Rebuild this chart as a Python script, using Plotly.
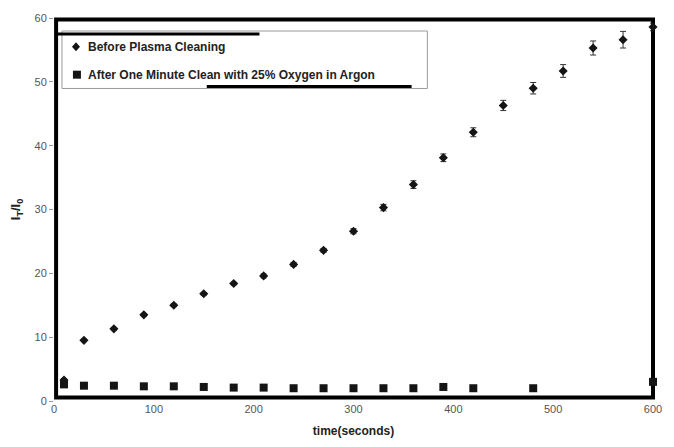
import plotly.graph_objects as go

# Transmitted intensity ratio I_T/I_0 versus exposure time
time_before = [10, 30, 60, 90, 120, 150, 180, 210, 240, 270, 300, 330, 360, 390,
               420, 450, 480, 510, 540, 570, 600]
ratio_before = [3.3, 9.5, 11.3, 13.5, 15.0, 16.8, 18.4, 19.6, 21.4, 23.6, 26.6, 30.3,
                33.9, 38.1, 42.1, 46.3, 49.0, 51.7, 55.3, 56.6, 58.6]
err_before = [0.2, 0.2, 0.2, 0.2, 0.2, 0.2, 0.2, 0.3, 0.3, 0.3, 0.4, 0.5, 0.6, 0.6,
              0.7, 0.8, 0.9, 1.0, 1.1, 1.3, 0.6]

time_after = [10, 30, 60, 90, 120, 150, 180, 210, 240, 270, 300, 330, 360, 390, 420,
              480, 600]
ratio_after = [2.6, 2.4, 2.4, 2.3, 2.3, 2.2, 2.1, 2.1, 2.0, 2.0, 2.0, 2.0, 2.0, 2.2,
               2.0, 2.0, 3.0]

x_ticks = [0, 100, 200, 300, 400, 500, 600]
y_ticks = [0, 10, 20, 30, 40, 50, 60]

label_before = "Before Plasma Cleaning"
label_after = "After One Minute Clean with 25% Oxygen in Argon"

fig = go.Figure()

fig.add_trace(go.Scatter(
    x=time_after, y=ratio_after, mode="markers", name=label_after,
    marker=dict(symbol="square", size=8, color="#151515"),
    showlegend=False, cliponaxis=False,
))
fig.add_trace(go.Scatter(
    x=time_before, y=ratio_before, mode="markers", name=label_before,
    marker=dict(symbol="diamond", size=7, color="#151515"),
    error_y=dict(type="data", array=err_before, visible=True,
                 color="#333333", thickness=1, width=3),
    showlegend=False, cliponaxis=False,
))

tick_font = dict(family="Liberation Sans, Arial, sans-serif", size=11, color="#555555")
title_font = dict(family="Liberation Sans, Arial, sans-serif", size=12, color="#222222")

fig.update_xaxes(
    range=[0, 600], tickvals=x_ticks, showgrid=False, zeroline=False,
    showline=False, ticks="", tickfont=tick_font,
    title=dict(text="<b>time(seconds)</b>", font=title_font, standoff=12),
)
fig.update_yaxes(
    range=[0, 60], tickvals=y_ticks, showgrid=False, zeroline=False,
    showline=False, ticks="outside", ticklen=4, tickcolor="#999999",
    tickfont=tick_font,
    title=dict(text="<b>I<sub>T</sub>/I<sub>0</sub></b>",
               font=dict(family="Liberation Sans, Arial, sans-serif", size=13,
                         color="#222222"),
               standoff=10),
)

shapes = [
    # thin grey baseline along the time axis
    dict(type="line", xref="x", yref="y", x0=0, x1=488, y0=-0.3, y1=-0.3,
         line=dict(color="#9a9a9a", width=1), layer="below"),
    # heavy black frame round the plotting area
    dict(type="rect", xref="paper", yref="paper", x0=0.0035, x1=1.0,
         y0=0.009, y1=0.996, line=dict(color="black", width=4), layer="below"),
    # legend box
    dict(type="rect", xref="paper", yref="paper", x0=0.0133, x1=0.6233,
         y0=0.816, y1=0.966, line=dict(color="#9a9a9a", width=1),
         fillcolor="rgba(255,255,255,0.9)", layer="below"),
    # heavy underlines in the legend
    dict(type="line", xref="paper", yref="paper", x0=0.0067, x1=0.343,
         y0=0.9585, y1=0.9585, line=dict(color="black", width=3)),
    dict(type="line", xref="paper", yref="paper", x0=0.255, x1=0.597,
         y0=0.821, y1=0.821, line=dict(color="black", width=3)),
    # legend symbols
    dict(type="path", xref="paper", yref="paper", xsizemode="pixel", ysizemode="pixel",
         xanchor=0.0367, yanchor=0.925,
         path="M -4,0 L 0,4.5 L 4,0 L 0,-4.5 Z", fillcolor="#151515",
         line=dict(width=0)),
    dict(type="rect", xref="paper", yref="paper", xsizemode="pixel", ysizemode="pixel",
         xanchor=0.0383, yanchor=0.852, x0=-4, x1=4, y0=-4, y1=4,
         fillcolor="#151515", line=dict(width=0)),
]

legend_font = dict(family="Liberation Sans, Arial, sans-serif", size=12, color="#222222")
annotations = [
    dict(text="<b>" + label_before + "</b>", xref="paper", yref="paper",
         x=0.053, y=0.925, xanchor="left", yanchor="middle", showarrow=False,
         font=legend_font),
    dict(text="<b>" + label_after + "</b>", xref="paper", yref="paper",
         x=0.053, y=0.852, xanchor="left", yanchor="middle", showarrow=False,
         font=legend_font),
]

fig.update_layout(
    width=674, height=447,
    margin=dict(l=54, r=20, t=15, b=46),
    plot_bgcolor="white", paper_bgcolor="white",
    shapes=shapes, annotations=annotations,
)

fig.write_html("out.html")
